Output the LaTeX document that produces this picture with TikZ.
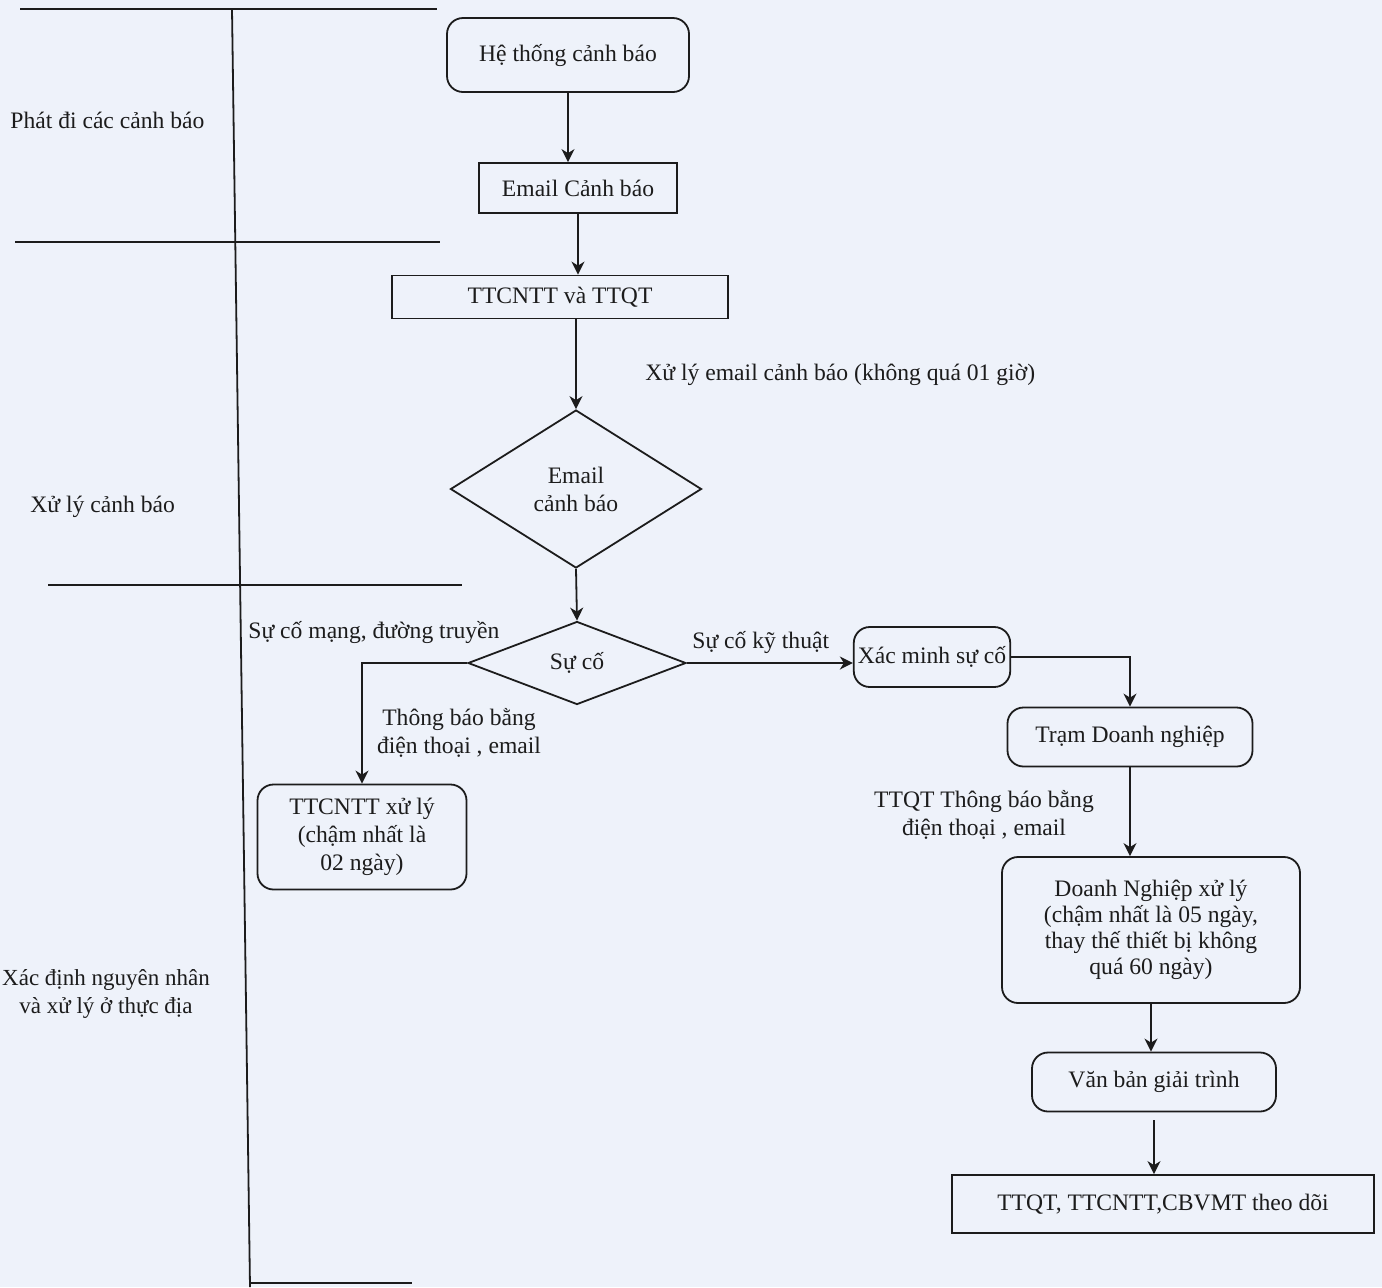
\documentclass[tikz,border=0pt]{standalone}
\usepackage{fontspec}
\setmainfont{Liberation Serif}
\usetikzlibrary{shapes.geometric,arrows.meta}
\definecolor{paper}{HTML}{EEF2FA}
\definecolor{ink}{HTML}{1C1C1C}
\begin{document}
\begin{tikzpicture}[x=0.5pt,y=-0.5pt,
  every node/.style={font=\fontsize{11.8}{14}\selectfont, text=ink},
  line/.style={draw=ink, line width=0.9pt},
  arr/.style={line, -{Stealth[length=6.5pt,width=6.5pt,inset=2pt]}},
  rbox/.style={draw=ink, line width=0.9pt, rounded corners=8pt, align=center, inner sep=2pt},
  sbox/.style={draw=ink, line width=0.9pt, align=center, inner sep=2pt},
  dia/.style={draw=ink, line width=0.9pt, diamond, align=center, inner sep=0pt},
  lbl/.style={align=center, inner sep=0pt}
]
\fill[paper] (0,0) rectangle (1382,1287);
\useasboundingbox (0,0) rectangle (1382,1287);

% swimlane lines
\draw[line] (20,9) -- (437,9);
\draw[line] (15,242) -- (440,242);
\draw[line] (48,585) -- (462,585);
\draw[line] (250,1283) -- (412,1283);
\draw[line] (232,9) -- (250,1287);

% lane labels
\node[lbl, anchor=west] (l1) at (10,120) {Phát đi các cảnh báo};
\node[lbl, anchor=west] (l2) at (30,507) {Xử lý cảnh báo};
\node[lbl, font=\fontsize{11.5}{14}\selectfont] (l3) at (106,994) {Xác định nguyên nhân\\và xử lý ở thực địa};

% nodes
\node[rbox, minimum width=121pt, minimum height=37pt] (ht) at (568,55) {Hệ thống cảnh báo};
\node[sbox, minimum width=99pt, minimum height=25pt] (em) at (578,188) {Email Cảnh báo};
\node[sbox, minimum width=168pt, minimum height=21.5pt] (tt) at (560,297) {TTCNTT và TTQT};
\node[dia, minimum width=125.5pt, minimum height=79pt] (d1) at (576,489) {Email\\cảnh báo};
\node[dia, minimum width=109pt, minimum height=41.5pt] (d2) at (577,663) {Sự cố};
\node[rbox, minimum width=104.5pt, minimum height=52.5pt] (xl) at (362,837) {TTCNTT xử lý\\(chậm nhất là\\02 ngày)};
\node[rbox, minimum width=77.5pt, minimum height=30pt] (xm) at (932,657) {Xác minh sự cố};
\node[rbox, minimum width=122.5pt, minimum height=29.5pt] (tdn) at (1130,737) {Trạm Doanh nghiệp};
\node[rbox, minimum width=149pt, minimum height=73pt, font=\fontsize{11.8}{13}\selectfont] (dn) at (1151,930) {Doanh Nghiệp xử lý\\(chậm nhất là 05 ngày,\\thay thế thiết bị không\\quá 60 ngày)};
\node[rbox, minimum width=122pt, minimum height=29.5pt] (vb) at (1154,1082) {Văn bản giải trình};
\node[sbox, minimum width=211pt, minimum height=29pt] (td) at (1163,1204) {TTQT, TTCNTT,CBVMT theo dõi};

% connectors
\draw[arr] (ht.south) -- (ht.south |- em.north);
\draw[arr] (em.south) -- (em.south |- tt.north);
\draw[arr] (tt.south -| d1.north) -- (d1.north);
\draw[arr] (d1.south) -- (d2.north);
\draw[arr] (d2.west) -| (xl.north);
\draw[arr] (d2.east) -- (d2.east -| xm.west);
\draw[arr] (xm.east) -| (tdn.north);
\draw[arr] (tdn.south) -- (tdn.south |- dn.north);
\draw[arr] (dn.south) -- (dn.south |- vb.north);
\draw[arr] ([yshift=-4pt]vb.south) -- (vb.south |- td.north);

% connector labels
\node[lbl, anchor=west] (e1) at (645,375) {Xử lý email cảnh báo (không quá 01 giờ)};
\node[lbl, anchor=west] (e2) at (248,632) {Sự cố mạng, đường truyền};
\node[lbl] (e3) at (459,733) {Thông báo bằng\\điện thoại , email};
\node[lbl, anchor=west] (e4) at (692,642) {Sự cố kỹ thuật};
\node[lbl] (e5) at (984,815) {TTQT Thông báo bằng\\điện thoại , email};
\end{tikzpicture}
\end{document}
